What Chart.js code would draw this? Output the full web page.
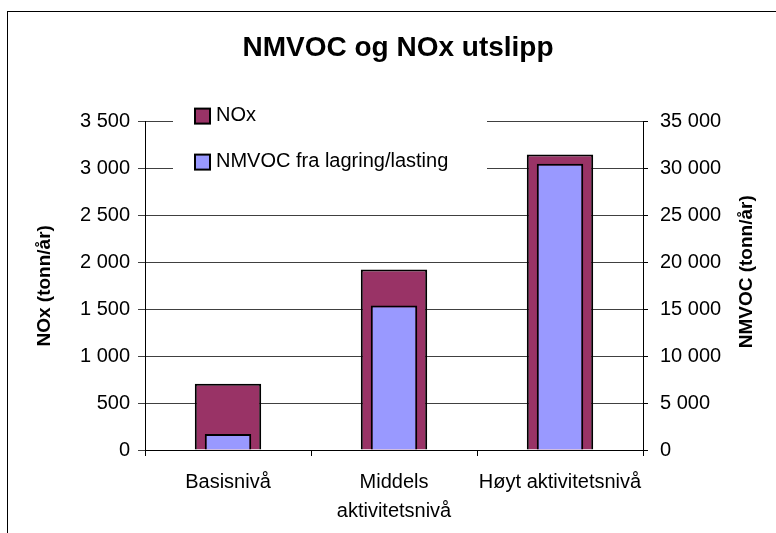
<!DOCTYPE html>
<html>
<head>
<meta charset="utf-8">
<script src="https://cdn.jsdelivr.net/npm/chart.js@4.4.0/dist/chart.umd.min.js"></script>
<style>
  html, body { margin: 0; padding: 0; background: #fff; }
</style>
</head>
<body>
<canvas id="utslipp" width="776" height="533"></canvas>
<script>
// data
const categories = ['Basisnivå', ['Middels', 'aktivitetsnivå'], 'Høyt aktivitetsnivå'];
const noxValues = [705, 1925, 3150];
const nmvocValues = [1700, 15400, 30500];
const seriesNames = ['NOx', 'NMVOC fra lagring/lasting'];
const noxAxis = [0, 3500, 500];     // min, max, step
const nmvocAxis = [0, 35000, 5000];
const rightTitle = 'NMVOC (tonn/år)';

const FONT = "'Liberation Sans', Arial, sans-serif";

function spaced(v) {
    return String(v).replace(/\B(?=(\d{3})+(?!\d))/g, ' ');
}

// frame around the whole chart (cut off on right/bottom like the original)
const framePlugin = {
    id: 'frame',
    beforeDraw(chart) {
        const ctx = chart.ctx;
        ctx.save();
        ctx.strokeStyle = '#000';
        ctx.lineWidth = 1;
        ctx.strokeRect(7.5, 11.5, 900, 900);
        ctx.restore();
    },
    // right axis title reads bottom-to-top, like the left one
    afterDraw(chart) {
        const ctx = chart.ctx;
        const s = chart.scales.y2;
        ctx.save();
        ctx.translate(s.right - 29, (s.top + s.bottom) / 2 - 14);
        ctx.rotate(-Math.PI / 2);
        ctx.font = 'bold 19px ' + FONT;
        ctx.fillStyle = '#000';
        ctx.textAlign = 'center';
        ctx.textBaseline = 'middle';
        ctx.fillText(rightTitle, 0, 0);
        ctx.restore();
    }
};

// legend sitting inside the plot, covering the grid lines
const innerLegend = {
    id: 'innerLegend',
    beforeDatasetsDraw(chart) {
        const ctx = chart.ctx;
        const a = chart.chartArea;
        ctx.save();
        ctx.fillStyle = '#fff';
        ctx.fillRect(a.left + 28, a.top - 22, 314, 90);
        const items = [
            { y: a.top - 6, ds: chart.data.datasets[0] },
            { y: a.top + 40, ds: chart.data.datasets[1] }
        ];
        ctx.font = '20px ' + FONT;
        ctx.textBaseline = 'middle';
        items.forEach(it => {
            ctx.fillStyle = it.ds.backgroundColor;
            ctx.fillRect(a.left + 50, it.y - 7, 15, 15);
            ctx.strokeStyle = '#000';
            ctx.lineWidth = 2;
            ctx.strokeRect(a.left + 50, it.y - 7, 15, 15);
            ctx.fillStyle = '#000';
            ctx.fillText(it.ds.label, a.left + 71, it.y);
        });
        ctx.restore();
    }
};

new Chart(document.getElementById('utslipp').getContext('2d'), {
    type: 'bar',
    data: {
        labels: categories,
        datasets: [{
            label: seriesNames[0],
            data: noxValues,
            yAxisID: 'y',
            backgroundColor: '#993366',
            borderColor: '#000',
            borderWidth: 2,
            grouped: false,
            categoryPercentage: 1,
            barPercentage: 0.4,
            order: 2
        }, {
            label: seriesNames[1],
            data: nmvocValues,
            yAxisID: 'y2',
            backgroundColor: '#9999ff',
            borderColor: '#000',
            borderWidth: 2,
            grouped: false,
            categoryPercentage: 1,
            barPercentage: 0.28,
            order: 1
        }]
    },
    options: {
        responsive: false,
        animation: false,
        layout: { padding: { left: 20, right: 0, top: 0, bottom: 0 } },
        plugins: {
            legend: { display: false },
            tooltip: { enabled: false },
            title: {
                display: true,
                text: 'NMVOC og NOx utslipp',
                color: '#000',
                font: { family: FONT, size: 28, weight: 'bold' },
                padding: { top: 31, bottom: 57 }
            }
        },
        scales: {
            x: {
                offset: true,
                grid: {
                    offset: true,
                    drawOnChartArea: false,
                    drawTicks: true,
                    tickLength: 6,
                    color: '#000'
                },
                border: { color: '#000', width: 1 },
                ticks: {
                    color: '#000',
                    font: { family: FONT, size: 20, lineHeight: 1.45 },
                    padding: 12,
                    maxRotation: 0,
                    autoSkip: false
                },
                afterFit(scale) { scale.height = 83; }
            },
            y: {
                position: 'left',
                min: noxAxis[0],
                max: noxAxis[1],
                grid: { color: '#404040', tickLength: 7 },
                border: { color: '#000', width: 1 },
                ticks: {
                    stepSize: noxAxis[2],
                    color: '#000',
                    padding: 8,
                    font: { family: FONT, size: 20 },
                    callback: v => spaced(v)
                },
                title: {
                    display: true,
                    text: 'NOx (tonn/år)',
                    color: '#000',
                    font: { family: FONT, size: 19, weight: 'bold' },
                    padding: { top: 13, bottom: 0 }
                },
                afterFit(scale) { scale.width = 125; }
            },
            y2: {
                position: 'right',
                min: nmvocAxis[0],
                max: nmvocAxis[1],
                grid: { drawOnChartArea: false, color: '#000', tickLength: 5 },
                border: { color: '#000', width: 1 },
                ticks: {
                    stepSize: nmvocAxis[2],
                    color: '#000',
                    padding: 12,
                    font: { family: FONT, size: 20 },
                    callback: v => spaced(v)
                },
                afterFit(scale) { scale.width = 133; }
            }
        }
    },
    plugins: [framePlugin, innerLegend]
});
</script>
</body>
</html>
